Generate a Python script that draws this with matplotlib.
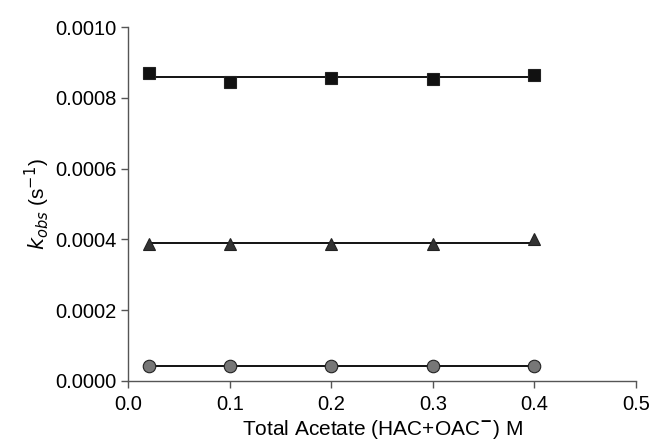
import matplotlib
matplotlib.use("Agg")
import matplotlib.pyplot as plt
import numpy as np

plt.rcParams['font.family'] = ['Liberation Sans', 'DejaVu Sans']

# total acetate concentration (M)
acetate = [0.02, 0.1, 0.2, 0.3, 0.4]

# observed rate constants (s^-1)
k_square = [0.000870, 0.000845, 0.000856, 0.000853, 0.000865]
k_triangle = [0.000388, 0.000386, 0.000388, 0.000388, 0.000401]
k_circle = [0.0000425, 0.0000425, 0.0000425, 0.0000425, 0.0000425]

fig = plt.figure(figsize=(6.51, 4.44), dpi=100)
ax = fig.add_axes([0.197, 0.142, 0.780, 0.797])

x = np.array(acetate)
series = [(k_square, 's', '#111111', 8),
          (k_triangle, '^', '#333333', 9),
          (k_circle, 'o', '#777777', 9)]
for vals, mk, col, ms in series:
    vals = np.array(vals)
    # flat fit line through the data
    ax.plot([x[0], x[-1]], [vals.mean(), vals.mean()], color='black', lw=1.3, zorder=2)
    ax.plot(x, vals, linestyle='none', marker=mk, markersize=ms,
            markerfacecolor=col, markeredgecolor='#222222', markeredgewidth=0.8, zorder=3)

ax.set_xlim(0, 0.5)
ax.set_ylim(0, 0.001)
ax.set_xticks([0.0, 0.1, 0.2, 0.3, 0.4, 0.5])
ax.set_xticklabels(['0.0', '0.1', '0.2', '0.3', '0.4', '0.5'])
ax.set_yticks([0.0, 0.0002, 0.0004, 0.0006, 0.0008, 0.0010])
ax.set_yticklabels(['0.0000', '0.0002', '0.0004', '0.0006', '0.0008', '0.0010'])

for s in ['top', 'right']:
    ax.spines[s].set_visible(False)
for s in ['left', 'bottom']:
    ax.spines[s].set_color('#555555')
    ax.spines[s].set_linewidth(1.0)
ax.tick_params(direction='out', length=5, width=1, color='#555555', labelsize=14.5)
ax.tick_params(axis='x', pad=5)

ax.set_xlabel('Total Acetate (HAC+OAC$^{\\mathbf{-}}$) M', fontsize=15, labelpad=3)
ax.set_ylabel('$k_{obs}$ (s$^{-1}$)', fontsize=15, labelpad=2)

fig.savefig('out.png', dpi=100)
